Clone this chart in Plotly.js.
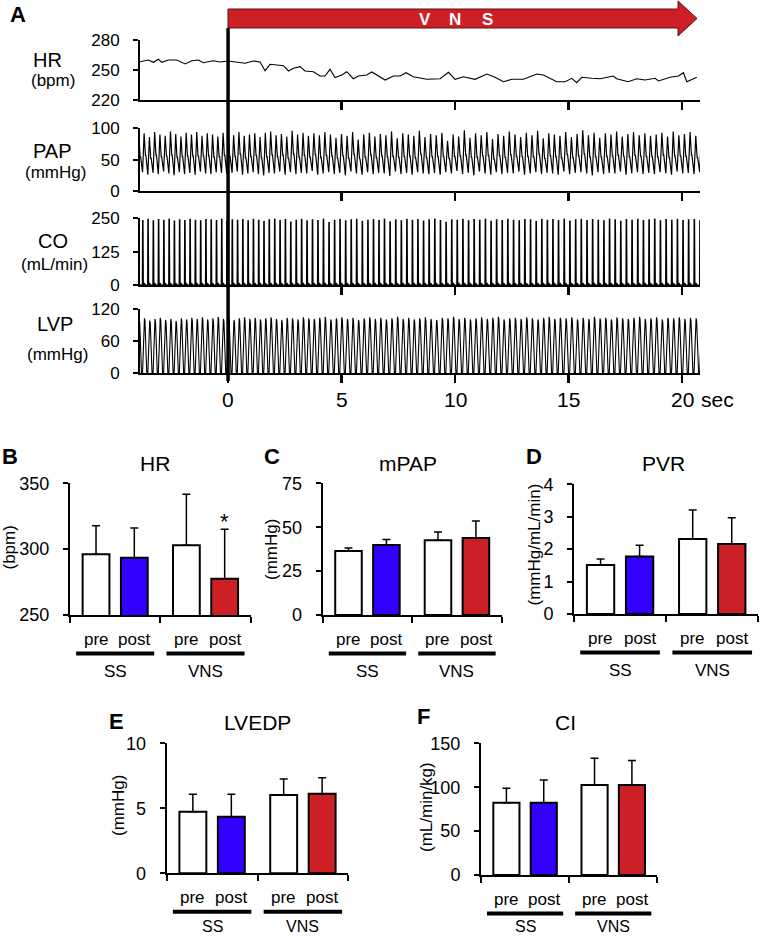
<!DOCTYPE html>
<html><head><meta charset="utf-8">
<script src="https://cdn.plot.ly/plotly-3.0.1.min.js"></script>
<style>html,body{margin:0;padding:0;background:#fff}#chart{width:759px;height:936px}</style>
</head><body><div id="chart"></div>
<script>
// ---------------- DATA ----------------
// Panel A: heart rate trace (time in s, bpm)
const hrTime = [-3.88,-3.51,-3.29,-3.07,-2.92,-2.63,-2.26,-1.89,-1.60,-1.31,
  -1.09,-0.65,-0.35,0,0.24,0.75,1.11,1.41,1.63,1.85,
  2.14,2.44,2.66,2.88,3.17,3.39,3.76,4.05,4.27,4.49,
  4.71,5.01,5.23,5.52,5.74,6.11,6.33,6.70,6.92,7.28,
  7.58,7.84,8.16,8.75,9.34,9.71,10.0,10.37,10.88,11.40,
  11.76,12.13,12.50,13.01,13.60,13.89,14.48,14.85,15.14,15.36,
  15.58,16.02,16.39,16.97,17.12,17.63,18.0,18.37,18.81,18.96,
  19.47,19.84,20.06,20.21,20.43,20.65];
const hrBpm = [258.3,260,257.7,260.7,257.7,260,260,256,259.3,260,
  257.3,259.3,258,259,258.3,256.7,259,258,249.3,255.7,
  255,254.3,249,251.7,253.3,249,248.3,244,244,250.7,
  242.5,245,248.3,241.3,244,245,248,242.7,240,244,
  244,247.3,243.3,240.7,241.3,247.7,240.7,243.3,240.7,246,
  242.7,238.3,240.7,240.7,246,245,238.3,238.3,241.7,237.3,
  242.7,241.7,241.3,244,241.3,238.3,241.3,240,241.7,239,
  242.7,244,247.3,238.3,240.7,242.7];
// Panel A: per-beat values (mmHg, mL/min)
const papSys = [89,92,86,94,90,88,95,91,87,93, 90,94,88,92,90,87,93,91,89,94,
  88,90,92,86,93,95,89,91,87,96, 90,93,88,92,89,94,90,85,91,88,
  94,82,90,93,87,91,89,95,84,92, 90,88,96,86,91,89,93,80,90,87,
  97,85,92,89,94,83,91,88,95,90, 86,93,89,96,84,92,90,88,94,86,
  91,97,89,93,85,92,90,95,87,91, 94,89,92,88,90,93,87,95,89,91, 94,88,92,90,93,89];
const papDia = [28,30,26,29,27,31,28,25,30,27, 29,26,31,28,27,30,29,27,29,31,
  26,28,30,27,25,29,28,31,26,30, 27,29,28,32,26,28,30,27,29,25,
  31,28,26,30,27,29,28,24,31,27, 29,26,30,28,27,29,26,30,28,32,
  27,29,25,31,28,26,30,27,29,28, 31,26,28,30,27,29,28,26,31,27,
  29,30,28,25,30,27,29,28,31,26, 28,30,27,29,27,30,28,26,31,28, 29,27,30,28,26,29];
const coPeak = [246,244,248,243,247,245,249,242,246,244, 248,245,243,247,246,244,249,241,246,245,
  247,243,248,245,240,246,249,244,247,238, 245,248,243,246,244,249,236,245,247,243,
  246,248,241,245,247,244,249,239,246,243, 248,245,247,242,246,249,244,237,246,245,
  248,243,247,245,249,241,246,244,248,245, 243,247,246,240,248,245,247,244,249,242,
  246,248,244,247,245,243,249,246,241,247, 245,248,244,246,249,243,247,245,248,244, 246,247,243,248,245,246];
const lvpPeak = [101,103,99,102,104,100,102,98,103,101, 104,102,105,101,103,106,102,104,100,103,
  105,102,104,101,103,105,102,100,104,103, 101,105,103,102,104,106,101,103,105,102,
  104,100,103,105,102,104,101,103,106,102, 104,101,103,105,102,100,104,103,106,102,
  104,101,103,105,102,104,106,101,103,104, 102,105,103,101,104,106,102,104,103,105,
  101,104,102,106,103,104,101,105,103,102, 104,106,102,103,105,101,104,103,105,102, 104,103,105,102,104,103];
const lvpMin = 1;
const timeTicks = [0,5,10,15,20];

// Panels B-F
const groups = ["SS","SS","VNS","VNS"];
const phases = ["pre","post","pre","post"];
const hrMean = [296.2,293.4,303.0,277.5];
const hrSD   = [21.5,22.6,38.7,37.7];
const mpapMean = [36.5,39.8,42.6,43.9];
const mpapSD   = [1.7,3.2,4.7,9.7];
const pvrMean = [1.51,1.77,2.31,2.16];
const pvrSD   = [0.19,0.35,0.90,0.81];
const lvedpMean = [4.74,4.35,6.02,6.12];
const lvedpSD   = [1.34,1.73,1.23,1.23];
const ciMean = [82.4,82.4,102.6,102.6];
const ciSD   = [16.5,25.9,30.4,27.7];
const significant = [false,false,false,true]; // HR only

// ---------------- STYLE / LAYOUT ----------------
const W=759, H=936;
const fx = p => p/W, fy = p => 1 - p/H;
const FONT = "Liberation Sans, Arial, Helvetica, sans-serif";
const BLUE = "#3300ff", RED = "#cc1f26";
const T0 = -3.88, T1 = 20.79;
// beat shape templates: [fraction of period, relative level]
const papShape = [[0,0],[0.30,1],[0.55,0.42],[0.62,0.45]];
const coShape  = [[0,0],[0.05,1],[0.11,0],[0.35,0.02],[0.6,-0.01]];
const lvpShape = [[0,0],[0.12,0.3],[0.26,0.88],[0.36,1],[0.46,0.95],[0.6,0.45],[0.72,0.06],[0.8,0]];

function hrAt(t){ let v=hrBpm[0]; for(let i=0;i<hrTime.length;i++){ if(hrTime[i]<=t) v=hrBpm[i]; else break; } return v; }
const beats=[]; { let t=T0-0.12, k=0; while(t<T1+0.3 && k<papSys.length){ const T=60/hrAt(t); beats.push({t,T,k}); t+=T; k++; } }

function wave(shape, lowFn, highFn){
  const xs=[], ys=[];
  beats.forEach(b=>{ const lo=lowFn(b.k), hi=highFn(b.k);
    shape.forEach(([f,a])=>{ xs.push(b.t+f*b.T); ys.push(lo+a*(hi-lo)); }); });
  return {xs,ys};
}
const pap = wave(papShape, k=>papDia[k], k=>papSys[k]);
const co  = wave(coShape, k=>0, k=>coPeak[k]);
const lvp = wave(lvpShape, k=>lvpMin, k=>lvpPeak[k]);

const traces = [
  {x:hrTime, y:hrBpm, xaxis:'x', yaxis:'y', type:'scatter', mode:'lines', line:{color:'#000',width:1.1}},
  {x:pap.xs, y:pap.ys, xaxis:'x2', yaxis:'y2', type:'scatter', mode:'lines', line:{color:'#000',width:1.2}},
  {x:co.xs, y:co.ys, xaxis:'x3', yaxis:'y3', type:'scatter', mode:'lines', line:{color:'#000',width:1.6}},
  {x:lvp.xs, y:lvp.ys, xaxis:'x4', yaxis:'y4', type:'scatter', mode:'lines', line:{color:'#000',width:1.1}}
];

const layout = {width:W, height:H, margin:{l:0,r:0,t:0,b:0}, paper_bgcolor:'#fff', plot_bgcolor:'rgba(0,0,0,0)',
  showlegend:false, font:{family:FONT, color:'#000'}, annotations:[], shapes:[]};

const baseAx = {showline:true, linewidth:2, linecolor:'#000', showgrid:false, zeroline:false, ticks:'outside',
  tickcolor:'#000', fixedrange:true};
// Panel A axes
const aPanels = [
  {yd:[100,40], range:[220,280], tv:[220,250,280]},
  {yd:[191,128.3], range:[0,100], tv:[0,50,100]},
  {yd:[285,218.3], range:[0,250], tv:[0,125,250]},
  {yd:[373.3,309.3], range:[0,120], tv:[0,60,120]}
];
aPanels.forEach((p,i)=>{
  const n = i===0?'':String(i+1);
  layout['xaxis'+n] = Object.assign({}, baseAx, {domain:[fx(140),fx(700)], range:[T0,T1], anchor:'y'+n,
    tickvals:timeTicks, ticklen:8, tickwidth:2.5, showticklabels:false});
  if(i>0) layout['xaxis'+n].matches='x';
  layout['yaxis'+n] = Object.assign({}, baseAx, {domain:[fy(p.yd[0]),fy(p.yd[1])], range:p.range, anchor:'x'+n,
    tickvals:p.tv, ticklen:5, tickwidth:2, tickfont:{size:17}, ticklabelstandoff:10});
});
timeTicks.forEach(v=>layout.annotations.push({text:String(v), xref:'x4', yref:'paper', x:v, y:fy(399),
  xanchor:'center', yanchor:'middle', showarrow:false, font:{size:21}}));
const aLabels = [
  ["HR",47,60,20],["(bpm)",53,80,17],["PAP",53,151,20],["(mmHg)",55,172,17],
  ["CO",53,241,20],["(mL/min)",54,264,17],["LVP",55,324,20],["(mmHg)",57,354,17]];
aLabels.forEach(([t,x,y,s])=>layout.annotations.push({text:t,xref:'paper',yref:'paper',x:fx(x),y:fy(y),
  xanchor:'center',yanchor:'middle',showarrow:false,font:{size:s}}));
layout.annotations.push({text:'sec',xref:'paper',yref:'paper',x:fx(717),y:fy(399),xanchor:'center',yanchor:'middle',showarrow:false,font:{size:21}});
layout.annotations.push({text:'<b>A</b>',xref:'paper',yref:'paper',x:fx(17.5),y:fy(15),xanchor:'center',yanchor:'middle',showarrow:false,font:{size:22}});
// VNS arrow
const arrowPts = [[228,9],[678,9],[678,1],[697,18.5],[678,36],[678,28],[228,28]];
layout.shapes.push({type:'path', xref:'paper', yref:'paper',
  path:'M'+arrowPts.map(p=>fx(p[0])+','+fy(p[1])).join(' L')+' Z', fillcolor:RED, line:{color:'#5a1010',width:1}, layer:'above'});
[["V",425],["N",455],["S",487]].forEach(([t,x])=>layout.annotations.push({text:'<b>'+t+'</b>',xref:'paper',yref:'paper',
  x:fx(x),y:fy(19),xanchor:'center',yanchor:'middle',showarrow:false,font:{size:17,color:'#fff'}}));
// stimulation onset line
layout.shapes.push({type:'line', xref:'x', yref:'paper', x0:0, x1:0, y0:fy(381), y1:fy(28), line:{color:'#000',width:3.5}, layer:'above'});

// Panels B-F
const pos = [0,1,2.36,3.36];     // bar slot positions
const xr = [-0.68,4.04];
const bPanels = [
  {id:5, letter:'B', title:'HR', ytitle:'(bpm)', mean:hrMean, sd:hrSD, xd:[70,250.7], yd:[615,483.3], range:[250,350], tv:[250,300,350],
   L:[9.5,456], T:[155,463], Y:[8.5,548]},
  {id:6, letter:'C', title:'mPAP', ytitle:'(mmHg)', mean:mpapMean, sd:mpapSD, xd:[322.7,501.7], yd:[615,483.3], range:[0,75], tv:[0,25,50,75],
   L:[272,456], T:[408,463], Y:[271,550]},
  {id:7, letter:'D', title:'PVR', ytitle:'(mmHg/mL/min)', mean:pvrMean, sd:pvrSD, xd:[574,758.3], yd:[614,484.3], range:[0,4], tv:[0,1,2,3,4],
   L:[534,456], T:[663,463], Y:[533.5,545]},
  {id:8, letter:'E', title:'LVEDP', ytitle:'(mmHg)', mean:lvedpMean, sd:lvedpSD, xd:[166.7,348.3], yd:[873.3,743.3], range:[0,10], tv:[0,5,10],
   L:[116.7,721.7], T:[257,722], Y:[118,806]},
  {id:9, letter:'F', title:'CI', ytitle:'(mL/min/kg)', mean:ciMean, sd:ciSD, xd:[481,657.3], yd:[875,743.3], range:[0,150], tv:[0,50,100,150],
   L:[423,716.7], T:[565,722], Y:[426,807]}
];
const barColors = groups.map((g,i)=> phases[i]==='pre' ? '#fff' : (g==='SS'?BLUE:RED));
bPanels.forEach(p=>{
  const xa='x'+p.id, ya='y'+p.id;
  traces.push({type:'bar', x:pos, y:p.mean, xaxis:xa, yaxis:ya, width:0.7,
    marker:{color:barColors, line:{color:'#000',width:2}},
    error_y:{type:'data', symmetric:false, array:p.sd, arrayminus:p.sd.map(()=>0), color:'#000', thickness:1.5, width:4}});
  const mid=(pos[1]+pos[2])/2;
  layout['xaxis'+p.id] = Object.assign({}, baseAx, {domain:[fx(p.xd[0]),fx(p.xd[1])], range:xr, anchor:ya,
    tickvals:[xr[0]+0.003, mid, xr[1]-0.003], showticklabels:false, ticklen:6, tickwidth:2});
  layout['yaxis'+p.id] = Object.assign({}, baseAx, {domain:[fy(p.yd[0]),fy(p.yd[1])], range:p.range, anchor:xa,
    tickvals:p.tv, ticklen:5, tickwidth:2, tickfont:{size:18}, ticklabelstandoff:10});
  const ax0 = p.yd[0];
  const bottomPanel = ax0 > 800;
  phases.forEach((ph,i)=>layout.annotations.push({text:ph, xref:xa, yref:'paper', x:pos[i], y:fy(ax0+24),
    xanchor:'center', yanchor:'middle', showarrow:false, font:{size:17}}));
  ['SS','VNS'].forEach(g=>{
    const idx = groups.map((gg,i)=>gg===g?i:-1).filter(i=>i>=0);
    const a=pos[idx[0]], b=pos[idx[idx.length-1]];
    layout.shapes.push({type:'line', xref:xa, yref:'paper', x0:a-0.52, x1:b+0.52, y0:fy(ax0+38.5), y1:fy(ax0+38.5), line:{color:'#000',width:4}});
    layout.annotations.push({text:g, xref:xa, yref:'paper', x:(a+b)/2, y:fy(bottomPanel ? Math.min(ax0+56, 926) : ax0+56),
      xanchor:'center', yanchor:'middle', showarrow:false, font:{size:bottomPanel?16:17}});
  });
  layout.annotations.push({text:'<b>'+p.letter+'</b>', xref:'paper', yref:'paper', x:fx(p.L[0]), y:fy(p.L[1]), xanchor:'center', yanchor:'middle', showarrow:false, font:{size:22}});
  layout.annotations.push({text:p.title, xref:'paper', yref:'paper', x:fx(p.T[0]), y:fy(p.T[1]), xanchor:'center', yanchor:'middle', showarrow:false, font:{size:21}});
  layout.annotations.push({text:p.ytitle, xref:'paper', yref:'paper', x:fx(p.Y[0]), y:fy(p.Y[1]), xanchor:'center', yanchor:'middle', textangle:-90, showarrow:false, font:{size:17}});
  if(p.id===5){
    significant.forEach((s,i)=>{ if(s) layout.annotations.push({text:'*', xref:xa, yref:ya, x:pos[i], y:p.mean[i]+p.sd[i],
      xanchor:'center', yanchor:'bottom', yshift:-7, showarrow:false, font:{size:22}}); });
  }
});

Plotly.newPlot('chart', traces, layout, {displayModeBar:false, staticPlot:true});
</script>
</body></html>
